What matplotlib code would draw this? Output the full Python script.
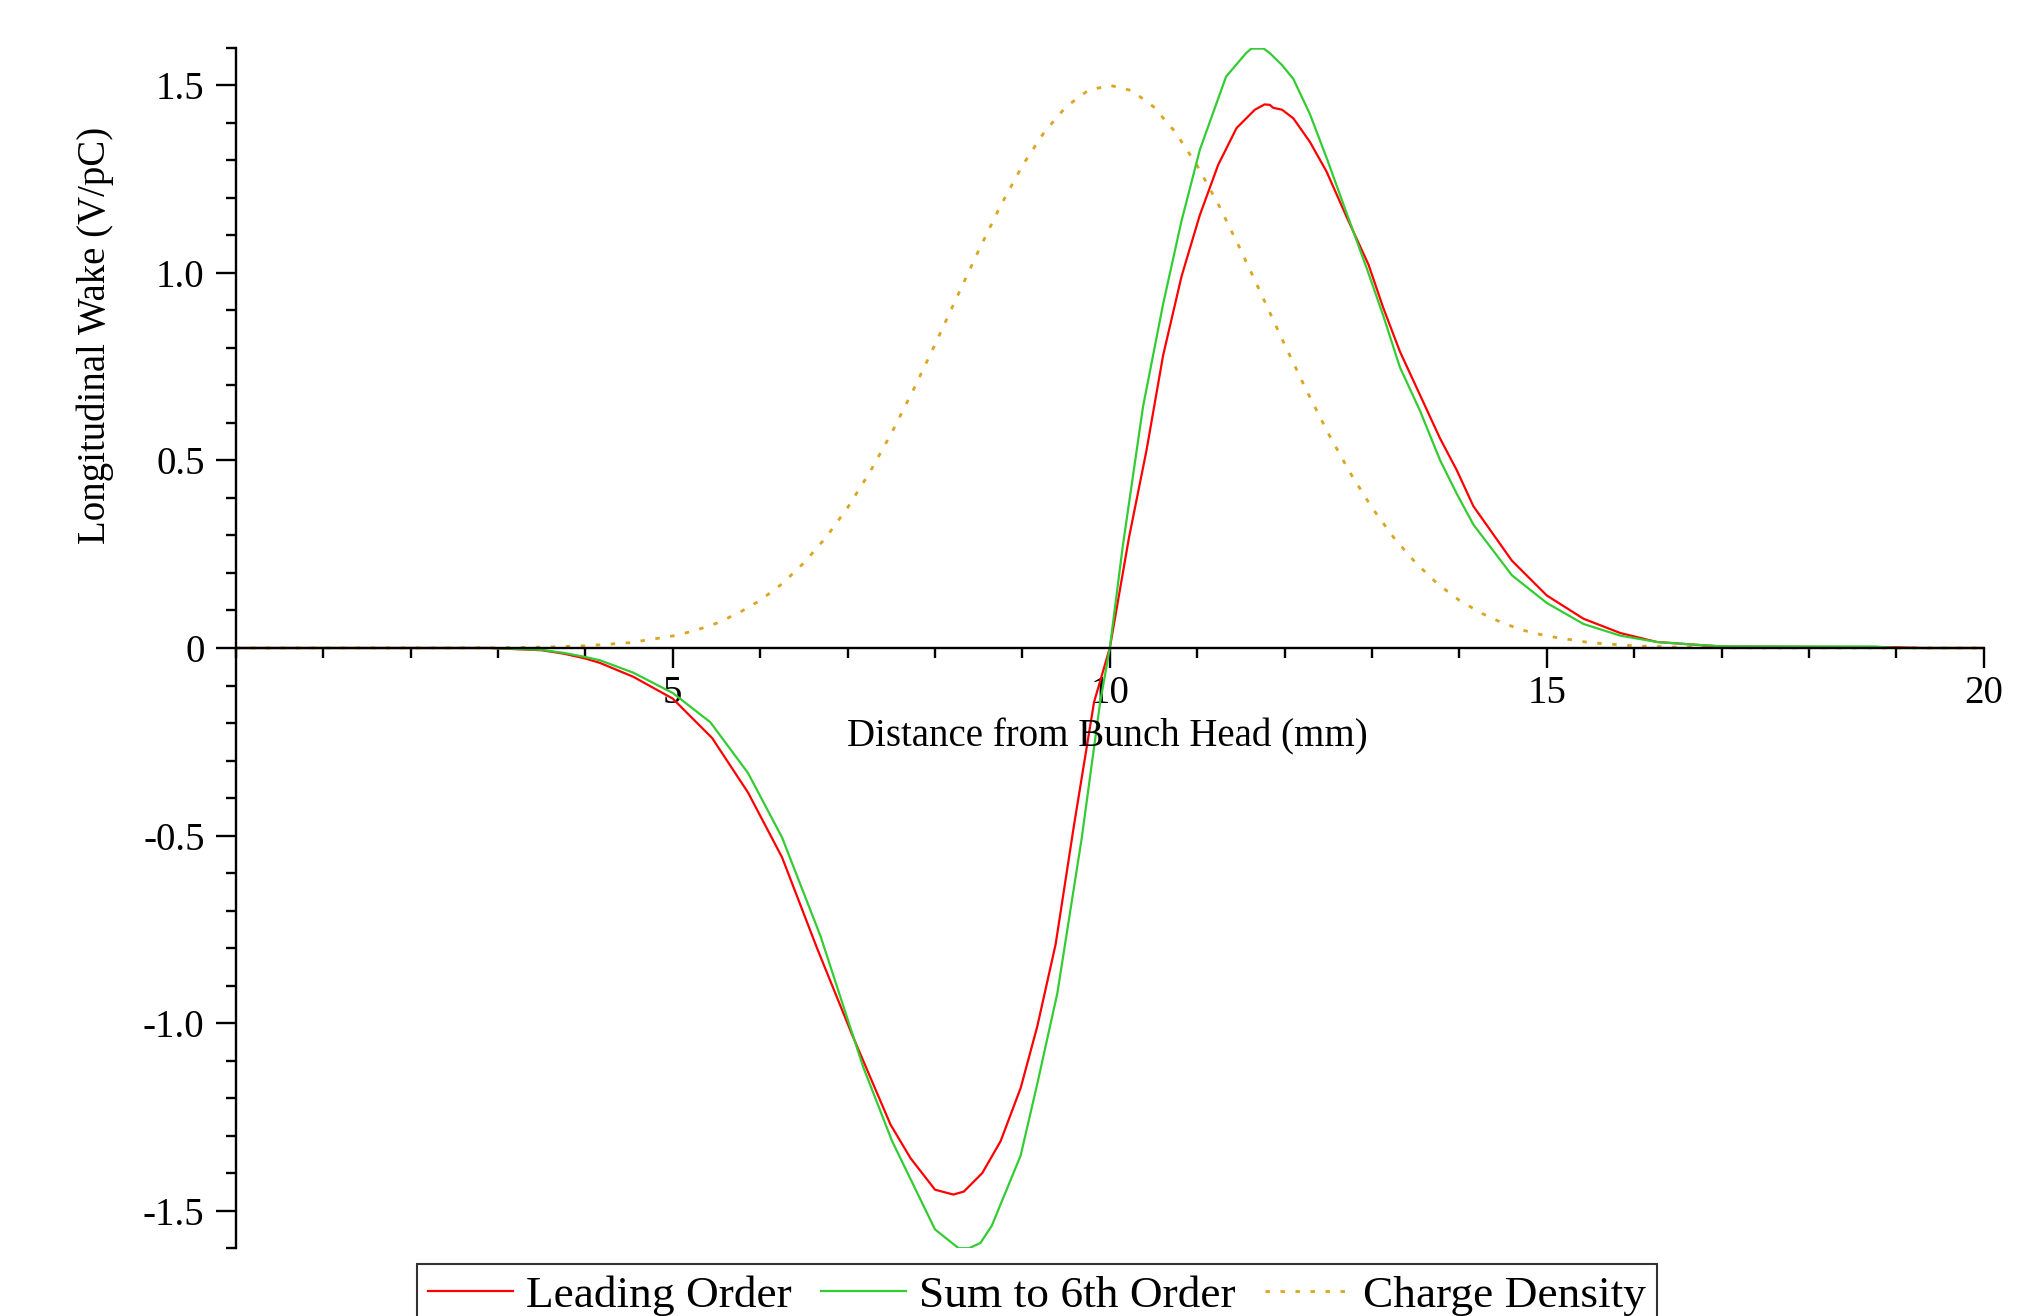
import numpy as np
import matplotlib
matplotlib.use("Agg")
import matplotlib.pyplot as plt
from matplotlib.ticker import FixedLocator, MultipleLocator

plt.rcParams["font.family"] = ["Liberation Serif", "DejaVu Serif"]

# values
x_lead = [0, 2.9, 3.5, 3.75, 4.0, 4.17, 4.55, 5.0, 5.45, 5.86, 6.25, 6.65, 7.05, 7.49, 7.72,
          8.0, 8.21, 8.33, 8.54, 8.75, 8.98, 9.17, 9.38, 9.59, 9.82, 10.0, 10.22, 10.42,
          10.61, 10.82, 11.03, 11.24, 11.45, 11.66, 11.77, 11.83, 11.87, 11.97, 12.10,
          12.29, 12.48, 12.71, 12.96, 13.13, 13.32, 13.55, 13.78, 13.97, 14.16, 14.60,
          15.0, 15.42, 15.84, 16.26, 16.68, 17.0, 18.0, 19.0, 19.3, 20]
w_lead = [0, 0, -0.006, -0.015, -0.028, -0.040, -0.077, -0.135, -0.240, -0.385, -0.558,
          -0.80, -1.03, -1.27, -1.36, -1.444, -1.457, -1.449, -1.40, -1.315, -1.173,
          -1.009, -0.79, -0.473, -0.144, 0.0, 0.295, 0.527, 0.78, 0.99, 1.154, 1.288,
          1.386, 1.435, 1.449, 1.448, 1.44, 1.435, 1.412, 1.349, 1.27, 1.149, 1.022,
          0.906, 0.79, 0.674, 0.558, 0.474, 0.378, 0.233, 0.14, 0.078, 0.040, 0.016,
          0.009, 0.004, 0.003, 0.002, 0, 0]

x_sum6 = [0, 2.9, 3.5, 3.75, 4.0, 4.17, 4.55, 5.0, 5.43, 5.86, 6.25, 6.69, 7.18, 7.51, 8.0,
          8.27, 8.39, 8.52, 8.65, 8.98, 9.17, 9.40, 9.68, 9.89, 10.0, 10.15, 10.38, 10.61,
          10.82, 11.03, 11.33, 11.56, 11.62, 11.76, 11.83, 11.97, 12.10, 12.29, 12.48,
          12.71, 12.94, 13.13, 13.32, 13.55, 13.78, 13.97, 14.16, 14.60, 15.0, 15.42,
          15.84, 16.26, 16.68, 17.0, 18.0, 18.75, 19.0, 20]
w_sum6 = [0, 0, -0.005, -0.013, -0.024, -0.033, -0.066, -0.120, -0.198, -0.333, -0.505,
          -0.768, -1.118, -1.315, -1.55, -1.60, -1.60, -1.586, -1.54, -1.353, -1.162,
          -0.92, -0.505, -0.144, 0.0, 0.274, 0.643, 0.917, 1.138, 1.328, 1.523, 1.586,
          1.598, 1.598, 1.586, 1.554, 1.517, 1.423, 1.307, 1.159, 1.012, 0.885, 0.748,
          0.632, 0.50, 0.411, 0.329, 0.194, 0.12, 0.064, 0.033, 0.016, 0.009, 0.0045,
          0.004, 0.004, 0, 0]

x_charge = [0, 2.5, 3.0, 3.5, 4.0, 4.5, 5.0, 5.25, 5.5, 5.75, 6.0, 6.25, 6.5, 6.75, 7.0,
            7.25, 7.5, 7.75, 8.0, 8.25, 8.5, 8.75, 9.0, 9.25, 9.5, 9.75, 10.0, 10.25,
            10.5, 10.75, 11.0, 11.25, 11.5, 11.75, 12.0, 12.25, 12.5, 12.75, 13.0, 13.25,
            13.5, 13.75, 14.0, 14.25, 14.5, 14.75, 15.0, 15.5, 16.0, 16.5, 17.0, 17.5, 20]
q_charge = [0, 0.0003, 0.0008, 0.0022, 0.0058, 0.014, 0.032,
            0.046, 0.066, 0.093, 0.127, 0.171, 0.227, 0.294, 0.374, 0.467, 0.572, 0.687,
            0.809, 0.935, 1.060, 1.179, 1.286, 1.375, 1.443, 1.486,
            1.500,
            1.486, 1.443, 1.375, 1.286, 1.179, 1.060, 0.935, 0.809, 0.687, 0.572, 0.467,
            0.374, 0.294, 0.227, 0.171, 0.127, 0.093, 0.066, 0.046, 0.032,
            0.014, 0.0058, 0.0022, 0.0008, 0.0003, 0]

y_ticks = [-1.5, -1.0, -0.5, 0, 0.5, 1.0, 1.5]
y_ticklabels = ["-1.5", "-1.0", "-0.5", "0", "0.5", "1.0", "1.5"]
x_ticks = [5, 10, 15, 20]
x_ticklabels = ["5", "10", "15", "20"]

W, H = 2041, 1316
fig = plt.figure(figsize=(W / 100, H / 100), dpi=100)
ax = fig.add_axes([235.8 / W, 1 - 1248.2 / H, 1748.0 / W, 1200.4 / H])

ax.plot(x_lead, w_lead, color="#ff0000", lw=1.6, label="Leading Order", zorder=3)
ax.plot(x_sum6, w_sum6, color="#33cc33", lw=1.6, label="Sum to 6th Order", zorder=3)
ax.plot(x_charge, q_charge, color="#daa520", lw=2.0, dashes=(1.6, 3.8),
        label="Charge Density", zorder=2)

ax.set_xlim(0, 20)
ax.set_ylim(-1.6, 1.6)

for s in ["top", "right"]:
    ax.spines[s].set_visible(False)
ax.spines["left"].set_position(("data", 0))
ax.spines["bottom"].set_position(("data", 0))
ax.spines["left"].set_linewidth(1.7)
ax.spines["bottom"].set_linewidth(1.7)
ax.spines["bottom"].set_zorder(4)

ax.xaxis.set_major_locator(FixedLocator(x_ticks))
ax.set_xticklabels(x_ticklabels)
ax.xaxis.set_minor_locator(MultipleLocator(1))
ax.yaxis.set_major_locator(FixedLocator(y_ticks))
ax.set_yticklabels(y_ticklabels)
ax.yaxis.set_minor_locator(MultipleLocator(0.1))

ax.tick_params(axis="both", which="major", direction="out", length=14.5, width=1.7,
               labelsize=28)
ax.tick_params(axis="both", which="minor", direction="out", length=7.5, width=1.7)
ax.tick_params(axis="x", which="major", pad=5)
ax.tick_params(axis="y", which="major", pad=8)

fig.text(1107.7 / W, 1 - 737 / H, "Distance from Bunch Head (mm)", fontsize=28,
         ha="center", va="center")
fig.text(95 / W, 1 - 335 / H, "Longitudinal Wake (V/pC)", fontsize=28,
         rotation=90, ha="center", va="center")

leg = fig.legend(loc="upper left", bbox_to_anchor=(416.5 / W, 1 - 1264 / H),
                 ncol=3, fontsize=32.7, frameon=True, fancybox=False,
                 handlelength=1.87, handletextpad=0.28, columnspacing=0.66,
                 borderpad=0.25, borderaxespad=0)
leg.get_frame().set_edgecolor("black")
leg.get_frame().set_linewidth(1.5)

fig.savefig("out.png", dpi=100)
